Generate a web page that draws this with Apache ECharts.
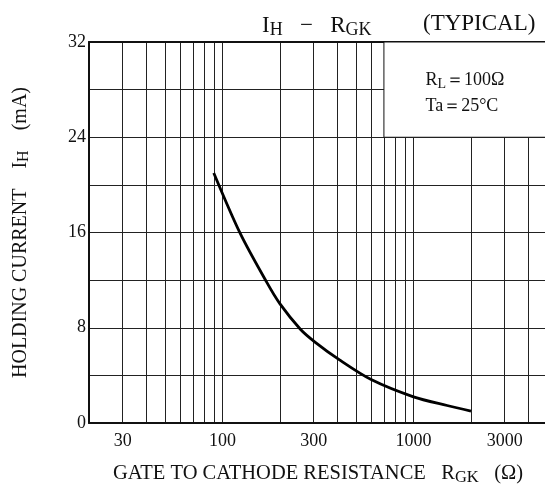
<!DOCTYPE html>
<html>
<head>
<meta charset="utf-8">
<script src="https://cdn.jsdelivr.net/npm/echarts@6/dist/echarts.min.js"></script>
<style>
html,body{margin:0;padding:0;background:#fff;}
#c{width:545px;height:488px;}
</style>
</head>
<body>
<div id="c"></div>
<script>
// ---- data ----
const rgk = [90, 124, 170, 200, 255, 305, 410, 600, 1000, 1500, 2000];
const ih  = [21.0, 15.9, 11.85, 10.0, 7.9, 6.8, 5.3, 3.65, 2.2, 1.47, 1.0];
const xGridValues = [20,30,40,50,60,70,80,90,100,200,300,400,500,600,700,800,900,1000,2000,3000,4000,5000];
const xTickLabels = [30, 100, 300, 1000, 3000];
const yTickLabels = [0, 8, 16, 24, 32];
const noteBox = [[700, 24], [5000, 32]];

const serif = '"Liberation Serif","DejaVu Serif",serif';
const ink = '#111';
const chart = echarts.init(document.getElementById('c'), null, {renderer: 'canvas'});

chart.setOption({
  animation: false,
  backgroundColor: '#fff',
  title: [{
    text: 'I{s|H}   −   R{s|GK}',
    left: 257, top: 7,
    textStyle: {fontFamily: serif, fontSize: 23, fontWeight: 'normal', color: ink,
      rich: {s: {fontFamily: serif, fontSize: 18, color: ink, padding: [9, 0, 0, 0]}}}
  }, {
    text: '(TYPICAL)',
    left: 418, top: 7,
    textStyle: {fontFamily: serif, fontSize: 23, fontWeight: 'normal', color: ink}
  }],
  grid: {left: 89, right: -2, top: 42, bottom: 65, containLabel: false, outerBoundsMode: 'none'},
  xAxis: [{
    type: 'log', logBase: 10, min: 20, max: 5000,
    name: 'GATE TO CATHODE RESISTANCE   R{s|GK}   (Ω)',
    nameLocation: 'middle', nameGap: 38,
    nameTextStyle: {fontFamily: serif, fontSize: 20.5, color: ink,
      rich: {s: {fontFamily: serif, fontSize: 16.5, color: ink, padding: [8, 0, 0, 0]}}},
    axisLine: {show: true, lineStyle: {color: ink, width: 2}},
    axisTick: {show: false, customValues: xGridValues},
    axisLabel: {customValues: xTickLabels, fontFamily: serif, fontSize: 18, color: ink, margin: 9,
      formatter: v => String(v)},
    splitLine: {show: true, lineStyle: {color: '#222', width: 1}},
    minorSplitLine: {show: false}
  }, {
    type: 'log', logBase: 10, min: 20, max: 5000, position: 'top',
    axisLine: {show: true, lineStyle: {color: ink, width: 2}},
    axisTick: {show: false}, axisLabel: {show: false}, splitLine: {show: false}
  }],
  yAxis: {
    type: 'value', min: 0, max: 32, interval: 4,
    name: 'HOLDING CURRENT    I{s|H}    (mA)',
    nameLocation: 'middle', nameGap: 57,
    nameTextStyle: {fontFamily: serif, fontSize: 20, color: ink,
      rich: {s: {fontFamily: serif, fontSize: 16, color: ink, padding: [7, 0, 0, 0]}}},
    axisLine: {show: true, lineStyle: {color: ink, width: 2}},
    axisTick: {show: false},
    axisLabel: {fontFamily: serif, fontSize: 18, color: ink, margin: 3,
      formatter: v => yTickLabels.indexOf(v) >= 0 ? String(v) : ''},
    splitLine: {show: true, lineStyle: {color: '#222', width: 1}}
  },
  series: [{
    type: 'line',
    xAxisIndex: 0,
    data: rgk.map((r, i) => [r, ih[i]]),
    smooth: 0.3,
    showSymbol: false,
    lineStyle: {color: '#000', width: 2.8},
    markArea: {
      silent: true,
      itemStyle: {color: '#fff', borderColor: ink, borderWidth: 1, opacity: 1},
      label: {
        show: true, position: [42, 26],
        fontFamily: serif, fontSize: 18, color: ink, lineHeight: 26,
        formatter: 'R{s|L}＝100Ω\nTa＝25°C',
        rich: {s: {fontFamily: serif, fontSize: 14, color: ink, padding: [7, 0, 0, 0]}}
      },
      data: [[{xAxis: noteBox[0][0], yAxis: noteBox[0][1]}, {xAxis: noteBox[1][0], yAxis: noteBox[1][1]}]]
    }
  }]
});
</script>
</body>
</html>
